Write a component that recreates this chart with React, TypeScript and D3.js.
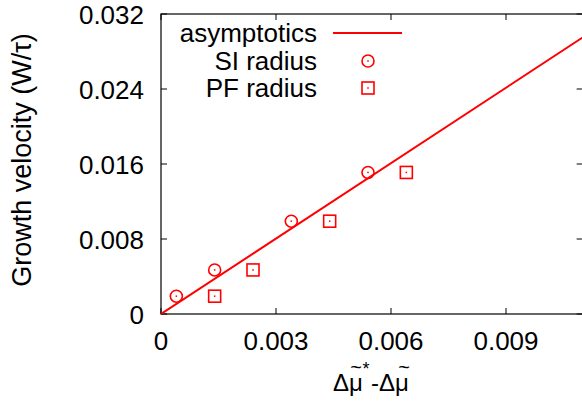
import React from "react";
import * as d3 from "d3";

const xTicks = [0, 0.003, 0.006, 0.009];
const xTickLabels = ["0", "0.003", "0.006", "0.009"];
const yTicks = [0, 0.008, 0.016, 0.024, 0.032];
const yTickLabels = ["0", "0.008", "0.016", "0.024", "0.032"];

const siX = [0.0004, 0.0014, 0.0034, 0.0054];
const siY = [0.0019, 0.0047, 0.0099, 0.0151];
const pfX = [0.0014, 0.0024, 0.0044, 0.0064];
const pfY = [0.0019, 0.0047, 0.0099, 0.0151];
const asymX = [0, 0.011];
const asymY = [0, 0.0295];

const legendLabels = ["asymptotics", "SI radius", "PF radius"];

const W = 582, H = 403;
const m = { left: 161, top: 14, bottom: 314 };
const RED = "#ff0000";
const FONT = "'Liberation Sans', Arial, Helvetica, sans-serif";

export default function App() {
  const x = d3.scaleLinear().domain([0, 0.011]).range([m.left, m.left + 0.011 * 115 / 0.003]);
  const y = d3.scaleLinear().domain([0, 0.032]).range([m.bottom, m.top]);
  const x0 = x(0), x1 = x(0.011), y0 = y(0), y1 = y(0.032);
  const line = d3.line<number>().x((_, i) => x(asymX[i])).y((d) => y(d));
  const tick = 6;
  const FS = 26;

  const circle = (cx: number, cy: number, k: string) => (
    <g key={k}>
      <circle cx={cx} cy={cy} r={6} fill="none" stroke={RED} strokeWidth={1.6} />
      <rect x={cx - 0.75} y={cy - 0.75} width={1.5} height={1.5} fill={RED} />
    </g>
  );
  const square = (cx: number, cy: number, k: string) => (
    <g key={k}>
      <rect x={cx - 6} y={cy - 6} width={12} height={12} fill="none" stroke={RED} strokeWidth={1.6} />
      <rect x={cx - 0.75} y={cy - 0.75} width={1.5} height={1.5} fill={RED} />
    </g>
  );

  const legX = 317;
  const legY = [33, 61, 88];

  return (
    <svg width={W} height={H} style={{ position: "absolute", left: 0, top: 0, background: "#fff" }} fontFamily={FONT}>
      <rect x={0} y={0} width={W} height={H} fill="#fff" />
      <defs>
        <clipPath id="plot">
          <rect x={x0} y={y1} width={x1 - x0} height={y0 - y1} />
        </clipPath>
      </defs>
      {xTicks.map((t, i) => (
        <g key={"xt" + i}>
          <line x1={x(t)} x2={x(t)} y1={y0} y2={y0 - tick} stroke="#000" strokeWidth={1} />
          <line x1={x(t)} x2={x(t)} y1={y1} y2={y1 + tick} stroke="#000" strokeWidth={1} />
          <text x={x(t)} y={350} fontSize={FS} textAnchor="middle" fill="#000">{xTickLabels[i]}</text>
        </g>
      ))}
      {yTicks.map((t, i) => (
        <g key={"yt" + i}>
          <line x1={x0} x2={x0 + tick} y1={y(t)} y2={y(t)} stroke="#000" strokeWidth={1} />
          <line x1={x1} x2={x1 - tick} y1={y(t)} y2={y(t)} stroke="#000" strokeWidth={1} />
          <text x={144} y={y(t) + 10} fontSize={FS} textAnchor="end" fill="#000">{yTickLabels[i]}</text>
        </g>
      ))}
      <rect x={x0} y={y1} width={x1 - x0} height={y0 - y1} fill="none" stroke="#000" strokeWidth={1.2} />

      <g clipPath="url(#plot)">
        <path d={line(asymY) || ""} fill="none" stroke={RED} strokeWidth={2} />
      </g>
      {siX.map((v, i) => circle(x(v), y(siY[i]), "si" + i))}
      {pfX.map((v, i) => square(x(v), y(pfY[i]), "pf" + i))}

      {legendLabels.map((l, i) => (
        <text key={"lg" + i} x={legX} y={legY[i] + 9} fontSize={FS} textAnchor="end" fill="#000">{l}</text>
      ))}
      <line x1={333} x2={402} y1={legY[0]} y2={legY[0]} stroke={RED} strokeWidth={2} />
      {circle(368, legY[1], "lc")}
      {square(368, legY[2], "ls")}

      <text transform={`translate(31,160) rotate(-90)`} fontSize={27} textAnchor="middle" fill="#000">
        Growth velocity (W/τ)
      </text>

      <g fill="#000">
        <text x={333} y={391} fontSize={24}>Δμ</text>
        <text x={356} y={374} fontSize={20} textAnchor="middle">~</text>
        <text x={366} y={375} fontSize={18} textAnchor="middle">*</text>
        <text x={371} y={391} fontSize={24}>-Δμ</text>
        <text x={404} y={374} fontSize={20} textAnchor="middle">~</text>
      </g>
    </svg>
  );
}
